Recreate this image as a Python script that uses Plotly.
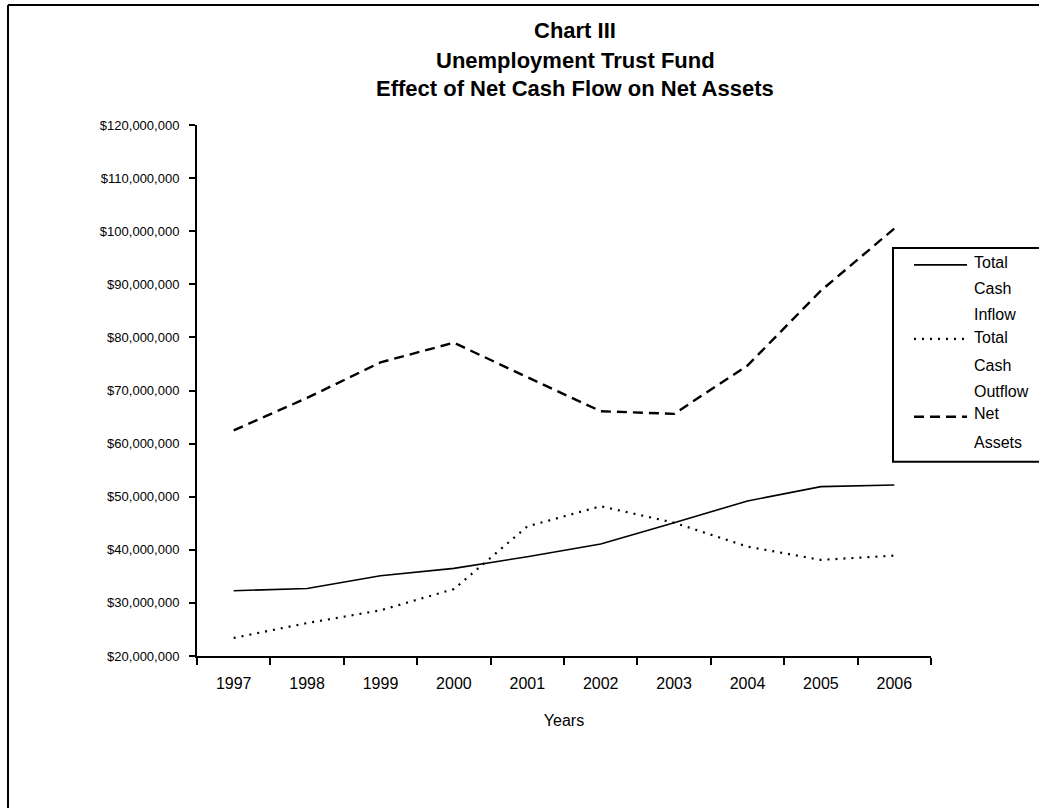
import plotly.graph_objects as go

# ---- data (values in dollars) ----
years = ["1997", "1998", "1999", "2000", "2001", "2002", "2003", "2004", "2005", "2006"]
total_cash_inflow = [32300000, 32700000, 35100000, 36500000, 38700000, 41100000, 45100000, 49200000, 51900000, 52200000]
total_cash_outflow = [23400000, 26200000, 28600000, 32600000, 44400000, 48200000, 45100000, 40600000, 38100000, 38900000]
net_assets = [62500000, 68600000, 75300000, 79000000, 72500000, 66100000, 65600000, 74700000, 88800000, 100500000]

series_names = ["Total Cash Inflow", "Total Cash Outflow", "Net Assets"]
legend_lines = [["Total", "Cash", "Inflow"], ["Total", "Cash", "Outflow"], ["Net", "Assets"]]
title_lines = ["Chart III", "Unemployment Trust Fund", "Effect of Net Cash Flow on Net Assets"]
x_title = "Years"

# ---- layout geometry (pixels) ----
W_FIG, H_FIG = 1039, 808
L, R, T, B = 197, 931, 125, 656.5
PW, PH = R - L, B - T

def px(x):
    return (x - L) / PW

def py(y):
    return (B - y) / PH

FONT = "Liberation Sans, Arial, sans-serif"

line_styles = [
    dict(color="black", width=1.6, dash="solid"),
    dict(color="black", width=2.2, dash="2px,6px"),
    dict(color="black", width=2.4, dash="10px,6px"),
]

fig = go.Figure()
for name, vals, ls in zip(series_names, [total_cash_inflow, total_cash_outflow, net_assets], line_styles):
    fig.add_trace(go.Scatter(x=years, y=vals, name=name, mode="lines", line=ls))

shapes = []
annotations = []

# outer border (left and top edges)
shapes.append(dict(type="line", xref="paper", yref="paper", x0=px(8), x1=px(8), y0=py(5), y1=py(H_FIG + 10),
                   line=dict(color="black", width=2)))
shapes.append(dict(type="line", xref="paper", yref="paper", x0=px(8), x1=px(W_FIG + 10), y0=py(5), y1=py(5),
                   line=dict(color="black", width=2)))

# legend box
shapes.append(dict(type="rect", xref="paper", yref="paper", x0=px(893), x1=px(W_FIG + 10), y0=py(462), y1=py(248),
                   line=dict(color="black", width=2), fillcolor="white", layer="above"))

text_y = [[263, 289, 315], [338, 366, 392], [414, 443]]
sample_y = [265, 339, 417]
for i in range(3):
    ls = dict(line_styles[i])
    shapes.append(dict(type="line", xref="paper", yref="paper", x0=px(914), x1=px(967),
                       y0=py(sample_y[i]), y1=py(sample_y[i]),
                       line=ls, layer="above"))
    for word, yy in zip(legend_lines[i], text_y[i]):
        annotations.append(dict(xref="paper", yref="paper", x=px(972), y=py(yy), text=word,
                                showarrow=False, xanchor="left", yanchor="middle",
                                font=dict(family=FONT, size=16, color="black")))

# title lines
for line, yy in zip(title_lines, [30, 60, 88]):
    annotations.append(dict(xref="paper", yref="paper", x=px(575), y=py(yy), text="<b>" + line + "</b>",
                            showarrow=False, xanchor="center", yanchor="middle",
                            font=dict(family=FONT, size=22, color="black")))

fig.update_layout(
    width=W_FIG, height=H_FIG,
    margin=dict(l=L, r=W_FIG - R, t=T, b=H_FIG - B, pad=0),
    paper_bgcolor="white", plot_bgcolor="white",
    showlegend=False,
    shapes=shapes, annotations=annotations,
    font=dict(family=FONT, color="black"),
)
fig.update_xaxes(type="category", range=[-0.5, len(years) - 0.5],
                 showline=True, linecolor="black", linewidth=2, mirror=False,
                 ticks="outside", tickson="boundaries", ticklen=7, tickwidth=2, tickcolor="black",
                 showgrid=False, zeroline=False, tickfont=dict(family=FONT, size=16),
                 ticklabelstandoff=12,
                 title=dict(text=x_title, font=dict(family=FONT, size=16), standoff=24))
fig.update_yaxes(range=[20000000, 120000000], dtick=10000000, tick0=20000000,
                 showline=True, linecolor="black", linewidth=2,
                 ticks="outside", ticklen=6, tickwidth=2, tickcolor="black",
                 showgrid=False, zeroline=False, tickprefix="$", tickformat=",d",
                 tickfont=dict(family=FONT, size=13), ticklabelstandoff=7)

fig.write_html("out.html", config={"displayModeBar": False},
               post_script="document.body.style.margin='0px';")
